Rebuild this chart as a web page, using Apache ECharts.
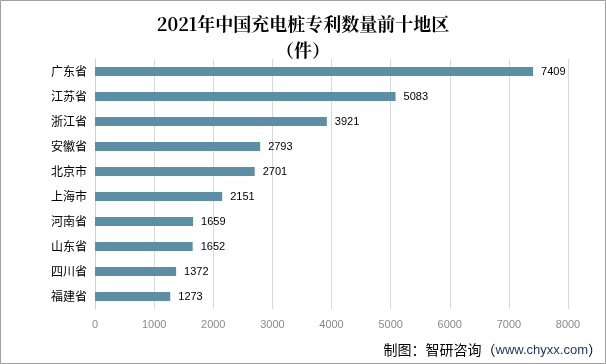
<!DOCTYPE html>
<html><head><meta charset="utf-8">
<script src="https://cdn.jsdelivr.net/npm/echarts@6/dist/echarts.min.js"></script>
<style>html,body{margin:0;padding:0;background:#fff}#c{width:606px;height:364px}</style>
</head><body><div id="c"></div>
<script>
const categories = ['广东省','江苏省','浙江省','安徽省','北京市','上海市','河南省','山东省','四川省','福建省'];
const values = [7409,5083,3921,2793,2701,2151,1659,1652,1372,1273];
const titleText = '2021年中国充电桩专利数量前十地区\n（件）';
const chart = echarts.init(document.getElementById('c'));
chart.setOption({
  backgroundColor:'#fff',
  animation:false,
  title:{text:titleText,left:'center',top:6,textStyle:{fontFamily:'"Noto Serif CJK SC","Noto Sans CJK SC",serif',fontSize:18,fontWeight:'bold',color:'#000',lineHeight:26}},
  grid:{left:95,right:38,top:59,bottom:55,containLabel:false},
  xAxis:{type:'value',min:0,max:8000,interval:1000,
    axisLine:{show:false},axisTick:{show:false},
    axisLabel:{color:'#8a8a8a',fontSize:11,margin:10,fontFamily:'Arial, "Liberation Sans", sans-serif',formatter:function(v){return String(v);}},
    splitLine:{lineStyle:{color:'#d9d9d9'}}},
  yAxis:{type:'category',data:categories,inverse:true,
    axisLine:{lineStyle:{color:'#d0d0d0'}},axisTick:{show:false},
    axisLabel:{color:'#000',fontSize:12,margin:8,fontFamily:'"Noto Sans CJK SC",sans-serif'}},
  series:[{type:'bar',data:values,barWidth:9,itemStyle:{color:'#5b8fa5'},
    label:{show:true,position:'right',distance:8,color:'#000',fontSize:11,fontFamily:'Arial, "Liberation Sans", sans-serif'}}],
  graphic:[
    {type:'rect',shape:{x:0.5,y:0.5,width:605,height:363},style:{fill:'none',stroke:'#a0a0a0',lineWidth:1},silent:true},
    {type:'text',right:4,top:343,style:{rich:{a:{fill:'#000',fontSize:14,fontFamily:'"Noto Sans CJK SC",sans-serif'},b:{fill:'#1f3864',fontSize:13,fontFamily:'Arial,"Liberation Sans",sans-serif'}},text:'{a|制图：智研咨询（}{b|www.chyxx.com}{a|）}'}}
  ]
});
</script></body></html>
